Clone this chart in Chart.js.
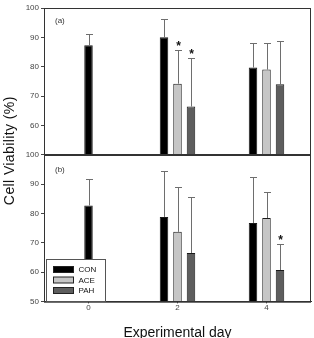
<!DOCTYPE html>
<html>
<head>
<meta charset="utf-8">
<script src="https://cdn.jsdelivr.net/npm/chart.js@4.4.0/dist/chart.umd.min.js"></script>
<style>
    html, body { margin: 0; padding: 0; background: #fff; }
    #contenedor { width: 314px; height: 338px; }
</style>
</head>
<body>
<div id="contenedor"><canvas id="graficoViabilidad"></canvas></div>
<script>
// Dias de muestreo (eje x)
const dias = ['0', '2', '4'];
const ticksY = [50, 60, 70, 80, 90, 100];

// Panel (a): media y desviacion
const conA = [87.3, 90.0, 79.7];
const aceA = [null, 74.2, 79.0];
const pahA = [null, 66.4, 74.0];
const conSdA = [3.7, 6.3, 8.5];
const aceSdA = [null, 11.4, 9.2];
const pahSdA = [null, 16.4, 14.8];
const conStarA = [false, false, false];
const aceStarA = [false, true, false];
const pahStarA = [false, true, false];

// Panel (b)
const conB = [82.7, 78.8, 76.7];
const aceB = [null, 73.7, 78.4];
const pahB = [null, 66.5, 60.7];
const conSdB = [9.1, 15.6, 15.7];
const aceSdB = [null, 15.3, 9.0];
const pahSdB = [null, 19.2, 8.7];
const conStarB = [false, false, false];
const aceStarB = [false, false, false];
const pahStarB = [false, false, true];

const colores = { CON: '#000000', ACE: '#c6c6c6', PAH: '#5e5e5e' };
const fuente = "'Liberation Sans', Arial, sans-serif";

function serie(label, data, sd, star, eje) {
    return {
        label: label,
        data: data,
        sd: sd,
        star: star,
        yAxisID: eje,
        stack: label,
        base: 50,
        backgroundColor: colores[label],
        borderColor: '#1a1a1a',
        borderWidth: 1
    };
}

function ejeY(panel) {
    return {
        type: 'linear',
        position: 'left',
        stack: 'paneles',
        stackWeight: 1,
        stacked: false,
        min: 50,
        max: 100,
        afterFit: s => { s.width = 30; },
        afterBuildTicks: s => { s.ticks = ticksY.map(v => ({ value: v })); },
        grid: { drawOnChartArea: false, tickLength: 3, color: '#444' },
        border: { color: '#333' },
        ticks: {
            color: '#444',
            padding: 2,
            font: { family: fuente, size: 8 },
            callback: v => (panel === 'a' && v === 50) ? '' : v
        }
    };
}

// Barras de error, asteriscos, marcos, etiquetas y leyenda
const extras = {
    id: 'extras',
    afterDatasetsDraw(chart) {
        const ctx = chart.ctx;
        const area = chart.chartArea;
        ctx.save();
        chart.data.datasets.forEach((ds, i) => {
            const meta = chart.getDatasetMeta(i);
            const escala = chart.scales[ds.yAxisID];
            meta.data.forEach((barra, j) => {
                if (ds.data[j] == null) return;
                const x = Math.round(barra.x) + 0.5;
                const yTop = Math.round(escala.getPixelForValue(ds.data[j] + ds.sd[j])) + 0.5;
                ctx.strokeStyle = '#6e6e6e';
                ctx.lineWidth = 1;
                ctx.beginPath();
                ctx.moveTo(x, barra.y);
                ctx.lineTo(x, yTop);
                ctx.moveTo(x - 3.5, yTop);
                ctx.lineTo(x + 3.5, yTop);
                ctx.stroke();
                if (ds.star[j]) {
                    ctx.fillStyle = '#111';
                    ctx.font = 'bold 12px ' + fuente;
                    ctx.textAlign = 'center';
                    ctx.textBaseline = 'alphabetic';
                    ctx.fillText('*', x, yTop - 1);
                }
            });
        });
        // marcos de cada panel
        ctx.strokeStyle = '#333';
        ctx.lineWidth = 1;
        ['yA', 'yB'].forEach(id => {
            const s = chart.scales[id];
            ctx.strokeRect(area.left + 0.5, Math.round(s.top) + 0.5, area.right - area.left - 1, s.bottom - s.top);
        });
        // linea separadora entre paneles, algo mas gruesa
        const sep = Math.round(chart.scales.yB.top);
        ctx.lineWidth = 2;
        ctx.beginPath();
        ctx.moveTo(area.left, sep);
        ctx.lineTo(area.right, sep);
        ctx.stroke();
        // etiquetas de panel
        ctx.fillStyle = '#333';
        ctx.font = '8px ' + fuente;
        ctx.textAlign = 'left';
        ctx.textBaseline = 'middle';
        ctx.fillText('(a)', area.left + 11, chart.scales.yA.top + 13);
        ctx.fillText('(b)', area.left + 11, chart.scales.yB.top + 15);
        ctx.restore();
    },
    afterDraw(chart) {
        const ctx = chart.ctx;
        const area = chart.chartArea;
        const yB = chart.scales.yB;
        ctx.save();
        // leyenda dentro del panel (b)
        const bx = area.left + 2.5, bw = 59, bh = 42;
        const by = Math.round(yB.bottom) - bh + 0.5;
        ctx.fillStyle = '#fff';
        ctx.fillRect(bx, by, bw, bh);
        ctx.strokeStyle = '#555';
        ctx.lineWidth = 1;
        ctx.strokeRect(bx, by, bw, bh);
        ctx.font = '8px ' + fuente;
        ctx.textAlign = 'left';
        ctx.textBaseline = 'middle';
        const nombres = ['CON', 'ACE', 'PAH'];
        nombres.forEach((n, k) => {
            const fy = by + 10 + k * 10.5;
            ctx.fillStyle = colores[n];
            ctx.fillRect(bx + 7, fy - 3, 20, 6);
            ctx.strokeStyle = '#222';
            ctx.strokeRect(bx + 7, fy - 3, 20, 6);
            ctx.fillStyle = '#111';
            ctx.fillText(n, bx + 32, fy + 0.5);
        });
        // titulo del eje y, compartido por ambos paneles
        ctx.translate(10, (area.top + area.bottom) / 2 - 4);
        ctx.rotate(-Math.PI / 2);
        ctx.font = '14px ' + fuente;
        ctx.letterSpacing = '0.4px';
        ctx.fillStyle = '#111';
        ctx.textAlign = 'center';
        ctx.textBaseline = 'middle';
        ctx.fillText('Cell Viability (%)', 0, 0);
        ctx.restore();
    }
};

const ctx = document.getElementById('graficoViabilidad').getContext('2d');
new Chart(ctx, {
    type: 'bar',
    data: {
        labels: dias,
        datasets: [
            serie('CON', conA, conSdA, conStarA, 'yA'),
            serie('ACE', aceA, aceSdA, aceStarA, 'yA'),
            serie('PAH', pahA, pahSdA, pahStarA, 'yA'),
            serie('CON', conB, conSdB, conStarB, 'yB'),
            serie('ACE', aceB, aceSdB, aceStarB, 'yB'),
            serie('PAH', pahB, pahSdB, pahStarB, 'yB')
        ]
    },
    options: {
        responsive: true,
        maintainAspectRatio: false,
        animation: false,
        skipNull: true,
        categoryPercentage: 0.455,
        barPercentage: 0.7,
        maxBarThickness: 8.5,
        layout: { padding: { left: 14, right: 3, top: 8, bottom: 0 } },
        plugins: { legend: { display: false }, tooltip: { enabled: false } },
        scales: {
            x: {
                stacked: true,
                offset: true,
                grid: { offset: false, drawOnChartArea: false, tickLength: 2, color: '#444' },
                border: { color: '#333' },
                ticks: { color: '#444', padding: 0, font: { family: fuente, size: 8 } },
                title: {
                    display: true,
                    text: 'Experimental day',
                    color: '#111',
                    font: { family: fuente, size: 14, lineHeight: 0.7 },
                    padding: { top: 15.2, bottom: 0 }
                }
            },
            // el eje declarado despues queda arriba
            yB: ejeY('b'),
            yA: ejeY('a')
        }
    },
    plugins: [extras]
});
</script>
</body>
</html>
